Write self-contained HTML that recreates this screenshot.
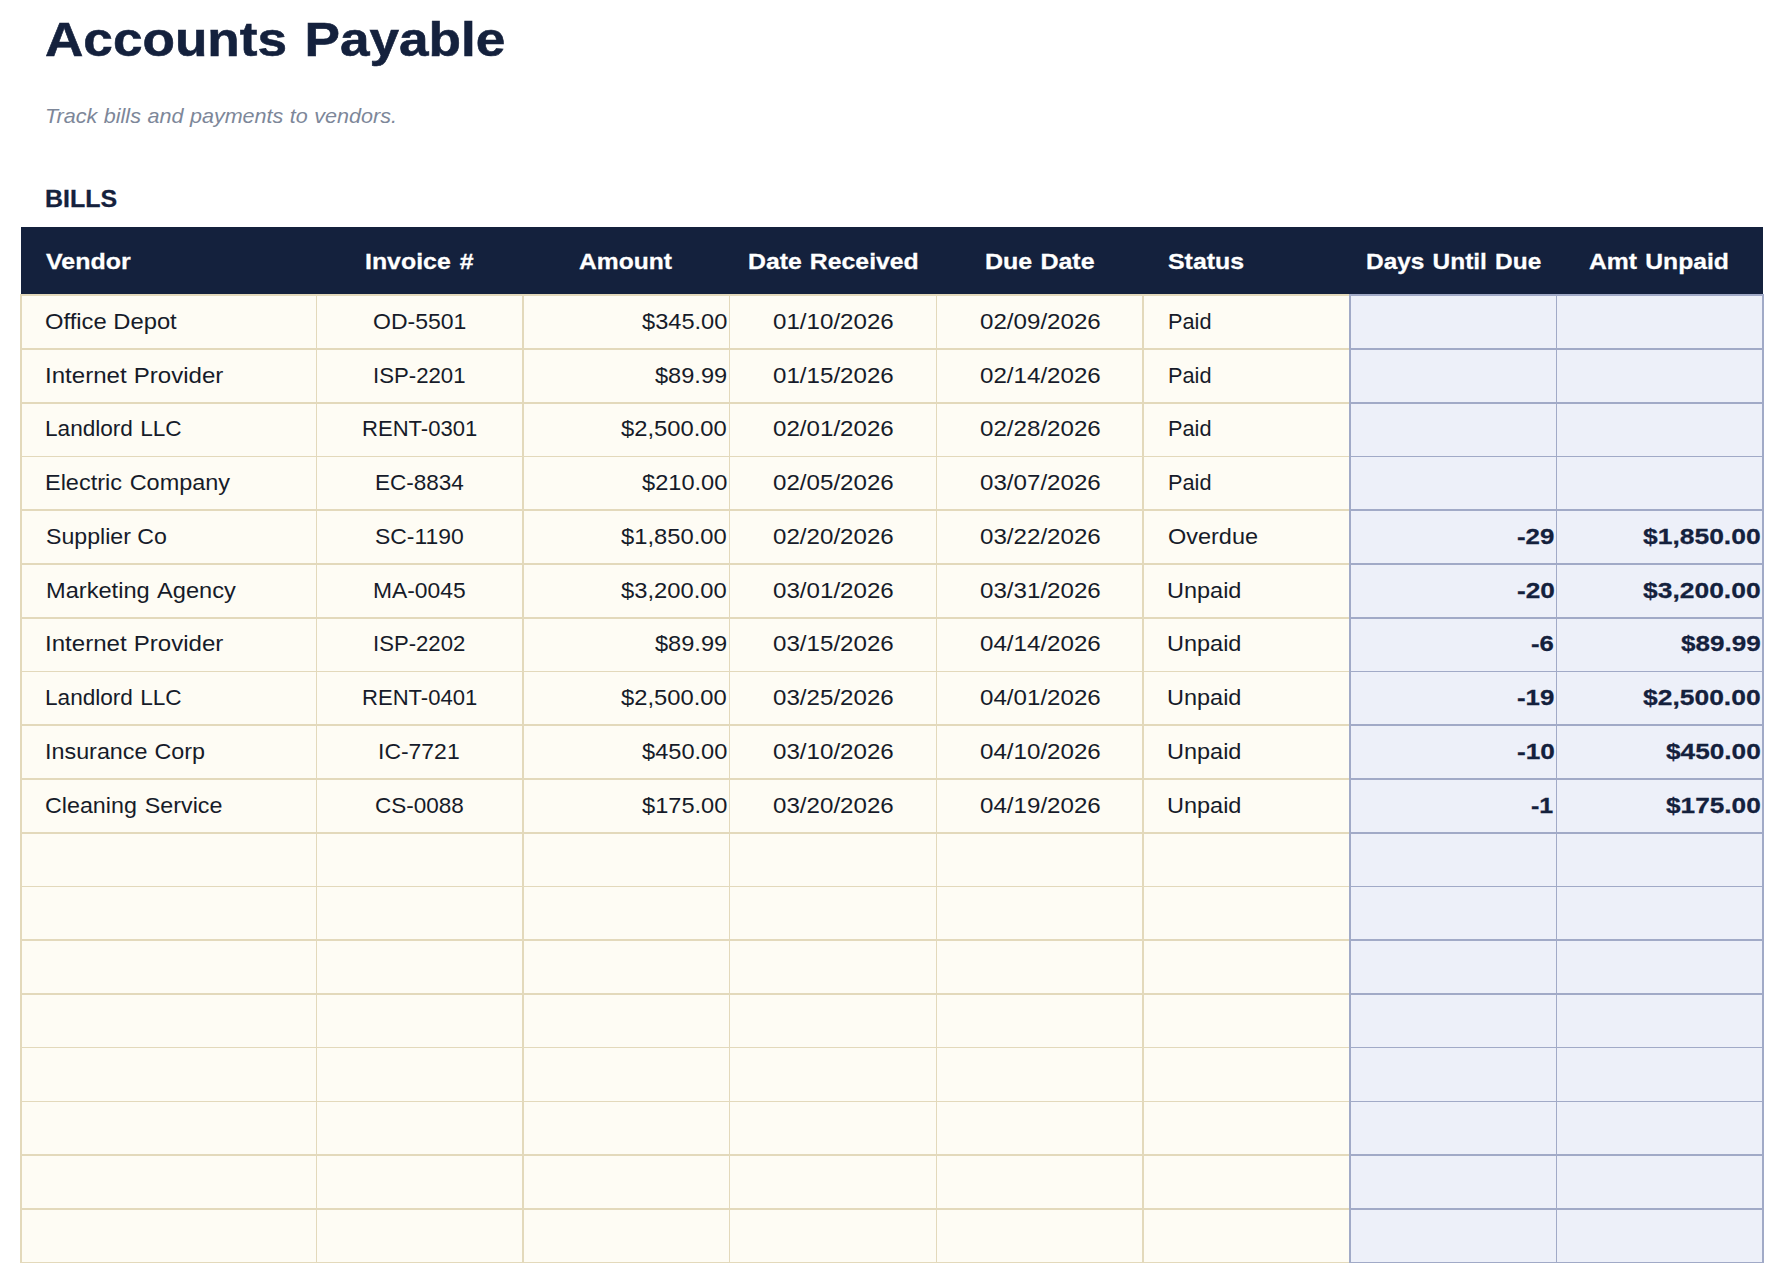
<!DOCTYPE html>
<html><head><meta charset="utf-8"><title>Accounts Payable</title>
<style>
html,body{margin:0;padding:0;background:#fff}
body{width:1784px;height:1283px;position:relative;overflow:hidden}
.r{position:absolute}
.t{position:absolute;white-space:pre;line-height:1;transform-origin:0 0}
</style></head><body>
<div class="r" style="left:20px;top:294px;width:1330px;height:969px;background:#fefcf4"></div>
<div class="r" style="left:1349px;top:294px;width:415px;height:969px;background:#edf0f9"></div>
<div class="r" style="left:20px;top:294px;width:1329px;height:2px;background:#e3d9bb"></div>
<div class="r" style="left:1349px;top:294px;width:415px;height:2px;background:#a1aac7"></div>
<div class="r" style="left:20px;top:348px;width:1329px;height:2px;background:#e3d9bb"></div>
<div class="r" style="left:1349px;top:348px;width:415px;height:2px;background:#a1aac7"></div>
<div class="r" style="left:20px;top:402px;width:1329px;height:2px;background:#e3d9bb"></div>
<div class="r" style="left:1349px;top:402px;width:415px;height:2px;background:#a1aac7"></div>
<div class="r" style="left:20px;top:456px;width:1329px;height:1px;background:#e3d9bb"></div>
<div class="r" style="left:1349px;top:456px;width:415px;height:1px;background:#a1aac7"></div>
<div class="r" style="left:20px;top:509px;width:1329px;height:2px;background:#e3d9bb"></div>
<div class="r" style="left:1349px;top:509px;width:415px;height:2px;background:#a1aac7"></div>
<div class="r" style="left:20px;top:563px;width:1329px;height:2px;background:#e3d9bb"></div>
<div class="r" style="left:1349px;top:563px;width:415px;height:2px;background:#a1aac7"></div>
<div class="r" style="left:20px;top:617px;width:1329px;height:2px;background:#e3d9bb"></div>
<div class="r" style="left:1349px;top:617px;width:415px;height:2px;background:#a1aac7"></div>
<div class="r" style="left:20px;top:671px;width:1329px;height:1px;background:#e3d9bb"></div>
<div class="r" style="left:1349px;top:671px;width:415px;height:1px;background:#a1aac7"></div>
<div class="r" style="left:20px;top:724px;width:1329px;height:2px;background:#e3d9bb"></div>
<div class="r" style="left:1349px;top:724px;width:415px;height:2px;background:#a1aac7"></div>
<div class="r" style="left:20px;top:778px;width:1329px;height:2px;background:#e3d9bb"></div>
<div class="r" style="left:1349px;top:778px;width:415px;height:2px;background:#a1aac7"></div>
<div class="r" style="left:20px;top:832px;width:1329px;height:2px;background:#e3d9bb"></div>
<div class="r" style="left:1349px;top:832px;width:415px;height:2px;background:#a1aac7"></div>
<div class="r" style="left:20px;top:886px;width:1329px;height:1px;background:#e3d9bb"></div>
<div class="r" style="left:1349px;top:886px;width:415px;height:1px;background:#a1aac7"></div>
<div class="r" style="left:20px;top:939px;width:1329px;height:2px;background:#e3d9bb"></div>
<div class="r" style="left:1349px;top:939px;width:415px;height:2px;background:#a1aac7"></div>
<div class="r" style="left:20px;top:993px;width:1329px;height:2px;background:#e3d9bb"></div>
<div class="r" style="left:1349px;top:993px;width:415px;height:2px;background:#a1aac7"></div>
<div class="r" style="left:20px;top:1047px;width:1329px;height:1px;background:#e3d9bb"></div>
<div class="r" style="left:1349px;top:1047px;width:415px;height:1px;background:#a1aac7"></div>
<div class="r" style="left:20px;top:1101px;width:1329px;height:1px;background:#e3d9bb"></div>
<div class="r" style="left:1349px;top:1101px;width:415px;height:1px;background:#a1aac7"></div>
<div class="r" style="left:20px;top:1154px;width:1329px;height:2px;background:#e3d9bb"></div>
<div class="r" style="left:1349px;top:1154px;width:415px;height:2px;background:#a1aac7"></div>
<div class="r" style="left:20px;top:1208px;width:1329px;height:2px;background:#e3d9bb"></div>
<div class="r" style="left:1349px;top:1208px;width:415px;height:2px;background:#a1aac7"></div>
<div class="r" style="left:20px;top:1262px;width:1329px;height:1px;background:#e3d9bb"></div>
<div class="r" style="left:1349px;top:1262px;width:415px;height:1px;background:#a1aac7"></div>
<div class="r" style="left:20px;top:294px;width:2px;height:969px;background:#e3d9bb"></div>
<div class="r" style="left:316px;top:294px;width:1px;height:969px;background:#e3d9bb"></div>
<div class="r" style="left:522px;top:294px;width:2px;height:969px;background:#e3d9bb"></div>
<div class="r" style="left:729px;top:294px;width:1px;height:969px;background:#e3d9bb"></div>
<div class="r" style="left:936px;top:294px;width:1px;height:969px;background:#e3d9bb"></div>
<div class="r" style="left:1142px;top:294px;width:2px;height:969px;background:#e3d9bb"></div>
<div class="r" style="left:1349px;top:294px;width:2px;height:969px;background:#a1aac7"></div>
<div class="r" style="left:1556px;top:294px;width:1px;height:969px;background:#a1aac7"></div>
<div class="r" style="left:1762px;top:294px;width:2px;height:969px;background:#a1aac7"></div>
<div class="r" style="left:21px;top:227px;width:1742px;height:67px;background:#14213d"></div>
<div class="t" style="left:44.82px;top:15.00px;color:#14213d;font-family:'Liberation Sans',sans-serif;font-size:48.36px;font-weight:bold;font-style:normal;word-spacing:2.485px;-webkit-text-stroke:0.58px;transform:scaleX(1.0984);">Accounts Payable</div>
<div class="t" style="left:44.52px;top:107.00px;color:#7d8799;font-family:'Liberation Sans',sans-serif;font-size:19.79px;font-weight:normal;font-style:italic;word-spacing:0.459px;transform:scaleX(1.0900);">Track bills and payments to vendors.</div>
<div class="t" style="left:45.42px;top:188.00px;color:#14213d;font-family:'Liberation Sans',sans-serif;font-size:23.71px;font-weight:bold;font-style:normal;-webkit-text-stroke:0.28px;transform:scaleX(1.0528);">BILLS</div>
<div class="t" style="left:45.55px;top:251.00px;color:#ffffff;font-family:'Liberation Sans',sans-serif;font-size:22.0px;font-weight:bold;font-style:normal;-webkit-text-stroke:0.26px;transform:scaleX(1.1347);">Vendor</div>
<div class="t" style="left:364.83px;top:251.00px;color:#ffffff;font-family:'Liberation Sans',sans-serif;font-size:22.0px;font-weight:bold;font-style:normal;word-spacing:1.840px;-webkit-text-stroke:0.26px;transform:scaleX(1.1312);">Invoice #</div>
<div class="t" style="left:579.33px;top:251.00px;color:#ffffff;font-family:'Liberation Sans',sans-serif;font-size:22.0px;font-weight:bold;font-style:normal;-webkit-text-stroke:0.26px;transform:scaleX(1.1182);">Amount</div>
<div class="t" style="left:747.90px;top:251.00px;color:#ffffff;font-family:'Liberation Sans',sans-serif;font-size:22.0px;font-weight:bold;font-style:normal;word-spacing:1.095px;-webkit-text-stroke:0.26px;transform:scaleX(1.1270);">Date Received</div>
<div class="t" style="left:985.10px;top:251.00px;color:#ffffff;font-family:'Liberation Sans',sans-serif;font-size:22.0px;font-weight:bold;font-style:normal;word-spacing:1.012px;-webkit-text-stroke:0.26px;transform:scaleX(1.1374);">Due Date</div>
<div class="t" style="left:1167.93px;top:251.00px;color:#ffffff;font-family:'Liberation Sans',sans-serif;font-size:22.0px;font-weight:bold;font-style:normal;-webkit-text-stroke:0.26px;transform:scaleX(1.1326);">Status</div>
<div class="t" style="left:1365.84px;top:251.00px;color:#ffffff;font-family:'Liberation Sans',sans-serif;font-size:22.0px;font-weight:bold;font-style:normal;word-spacing:1.311px;-webkit-text-stroke:0.26px;transform:scaleX(1.1099);">Days Until Due</div>
<div class="t" style="left:1589.42px;top:251.00px;color:#ffffff;font-family:'Liberation Sans',sans-serif;font-size:22.0px;font-weight:bold;font-style:normal;word-spacing:1.184px;-webkit-text-stroke:0.26px;transform:scaleX(1.1228);">Amt Unpaid</div>
<div class="t" style="left:45.48px;top:311.00px;color:#161b29;font-family:'Liberation Sans',sans-serif;font-size:22.0px;font-weight:normal;font-style:normal;word-spacing:0.023px;transform:scaleX(1.0805);">Office Depot</div>
<div class="t" style="left:372.62px;top:311.00px;color:#161b29;font-family:'Liberation Sans',sans-serif;font-size:22.0px;font-weight:normal;font-style:normal;transform:scaleX(1.0458);">OD-5501</div>
<div class="t" style="left:641.64px;top:311.00px;color:#161b29;font-family:'Liberation Sans',sans-serif;font-size:22.0px;font-weight:normal;font-style:normal;transform:scaleX(1.0732);">$345.00</div>
<div class="t" style="left:772.85px;top:311.00px;color:#161b29;font-family:'Liberation Sans',sans-serif;font-size:22.0px;font-weight:normal;font-style:normal;transform:scaleX(1.0968);">01/10/2026</div>
<div class="t" style="left:979.55px;top:311.00px;color:#161b29;font-family:'Liberation Sans',sans-serif;font-size:22.0px;font-weight:normal;font-style:normal;transform:scaleX(1.0968);">02/09/2026</div>
<div class="t" style="left:1167.87px;top:311.00px;color:#161b29;font-family:'Liberation Sans',sans-serif;font-size:22.0px;font-weight:normal;font-style:normal;transform:scaleX(0.9877);">Paid</div>
<div class="t" style="left:45.09px;top:365.00px;color:#161b29;font-family:'Liberation Sans',sans-serif;font-size:22.0px;font-weight:normal;font-style:normal;word-spacing:0.458px;transform:scaleX(1.0936);">Internet Provider</div>
<div class="t" style="left:372.90px;top:365.00px;color:#161b29;font-family:'Liberation Sans',sans-serif;font-size:22.0px;font-weight:normal;font-style:normal;transform:scaleX(1.0085);">ISP-2201</div>
<div class="t" style="left:655.10px;top:365.00px;color:#161b29;font-family:'Liberation Sans',sans-serif;font-size:22.0px;font-weight:normal;font-style:normal;transform:scaleX(1.0720);">$89.99</div>
<div class="t" style="left:772.85px;top:365.00px;color:#161b29;font-family:'Liberation Sans',sans-serif;font-size:22.0px;font-weight:normal;font-style:normal;transform:scaleX(1.0968);">01/15/2026</div>
<div class="t" style="left:979.55px;top:365.00px;color:#161b29;font-family:'Liberation Sans',sans-serif;font-size:22.0px;font-weight:normal;font-style:normal;transform:scaleX(1.0968);">02/14/2026</div>
<div class="t" style="left:1167.87px;top:365.00px;color:#161b29;font-family:'Liberation Sans',sans-serif;font-size:22.0px;font-weight:normal;font-style:normal;transform:scaleX(0.9877);">Paid</div>
<div class="t" style="left:45.49px;top:418.00px;color:#161b29;font-family:'Liberation Sans',sans-serif;font-size:22.0px;font-weight:normal;font-style:normal;word-spacing:0.974px;transform:scaleX(1.0270);">Landlord LLC</div>
<div class="t" style="left:361.71px;top:418.00px;color:#161b29;font-family:'Liberation Sans',sans-serif;font-size:22.0px;font-weight:normal;font-style:normal;transform:scaleX(1.0022);">RENT-0301</div>
<div class="t" style="left:621.49px;top:418.00px;color:#161b29;font-family:'Liberation Sans',sans-serif;font-size:22.0px;font-weight:normal;font-style:normal;transform:scaleX(1.0801);">$2,500.00</div>
<div class="t" style="left:772.85px;top:418.00px;color:#161b29;font-family:'Liberation Sans',sans-serif;font-size:22.0px;font-weight:normal;font-style:normal;transform:scaleX(1.0968);">02/01/2026</div>
<div class="t" style="left:979.55px;top:418.00px;color:#161b29;font-family:'Liberation Sans',sans-serif;font-size:22.0px;font-weight:normal;font-style:normal;transform:scaleX(1.0968);">02/28/2026</div>
<div class="t" style="left:1167.87px;top:418.00px;color:#161b29;font-family:'Liberation Sans',sans-serif;font-size:22.0px;font-weight:normal;font-style:normal;transform:scaleX(0.9877);">Paid</div>
<div class="t" style="left:45.39px;top:472.00px;color:#161b29;font-family:'Liberation Sans',sans-serif;font-size:22.0px;font-weight:normal;font-style:normal;word-spacing:1.161px;transform:scaleX(1.0661);">Electric Company</div>
<div class="t" style="left:375.03px;top:472.00px;color:#161b29;font-family:'Liberation Sans',sans-serif;font-size:22.0px;font-weight:normal;font-style:normal;transform:scaleX(1.0237);">EC-8834</div>
<div class="t" style="left:641.64px;top:472.00px;color:#161b29;font-family:'Liberation Sans',sans-serif;font-size:22.0px;font-weight:normal;font-style:normal;transform:scaleX(1.0732);">$210.00</div>
<div class="t" style="left:772.85px;top:472.00px;color:#161b29;font-family:'Liberation Sans',sans-serif;font-size:22.0px;font-weight:normal;font-style:normal;transform:scaleX(1.0968);">02/05/2026</div>
<div class="t" style="left:979.55px;top:472.00px;color:#161b29;font-family:'Liberation Sans',sans-serif;font-size:22.0px;font-weight:normal;font-style:normal;transform:scaleX(1.0968);">03/07/2026</div>
<div class="t" style="left:1167.87px;top:472.00px;color:#161b29;font-family:'Liberation Sans',sans-serif;font-size:22.0px;font-weight:normal;font-style:normal;transform:scaleX(0.9877);">Paid</div>
<div class="t" style="left:45.81px;top:526.00px;color:#161b29;font-family:'Liberation Sans',sans-serif;font-size:22.0px;font-weight:normal;font-style:normal;word-spacing:-0.134px;transform:scaleX(1.0521);">Supplier Co</div>
<div class="t" style="left:375.25px;top:526.00px;color:#161b29;font-family:'Liberation Sans',sans-serif;font-size:22.0px;font-weight:normal;font-style:normal;transform:scaleX(1.0420);">SC-1190</div>
<div class="t" style="left:621.49px;top:526.00px;color:#161b29;font-family:'Liberation Sans',sans-serif;font-size:22.0px;font-weight:normal;font-style:normal;transform:scaleX(1.0801);">$1,850.00</div>
<div class="t" style="left:772.85px;top:526.00px;color:#161b29;font-family:'Liberation Sans',sans-serif;font-size:22.0px;font-weight:normal;font-style:normal;transform:scaleX(1.0968);">02/20/2026</div>
<div class="t" style="left:979.55px;top:526.00px;color:#161b29;font-family:'Liberation Sans',sans-serif;font-size:22.0px;font-weight:normal;font-style:normal;transform:scaleX(1.0968);">03/22/2026</div>
<div class="t" style="left:1167.78px;top:526.00px;color:#161b29;font-family:'Liberation Sans',sans-serif;font-size:22.0px;font-weight:normal;font-style:normal;transform:scaleX(1.0667);">Overdue</div>
<div class="t" style="left:1516.67px;top:526.00px;color:#14213d;font-family:'Liberation Sans',sans-serif;font-size:22.0px;font-weight:bold;font-style:normal;-webkit-text-stroke:0.26px;transform:scaleX(1.1736);">-29</div>
<div class="t" style="left:1643.42px;top:526.00px;color:#14213d;font-family:'Liberation Sans',sans-serif;font-size:22.0px;font-weight:bold;font-style:normal;-webkit-text-stroke:0.26px;transform:scaleX(1.2016);">$1,850.00</div>
<div class="t" style="left:45.50px;top:580.00px;color:#161b29;font-family:'Liberation Sans',sans-serif;font-size:22.0px;font-weight:normal;font-style:normal;word-spacing:1.901px;transform:scaleX(1.0735);">Marketing Agency</div>
<div class="t" style="left:372.95px;top:580.00px;color:#161b29;font-family:'Liberation Sans',sans-serif;font-size:22.0px;font-weight:normal;font-style:normal;transform:scaleX(1.0376);">MA-0045</div>
<div class="t" style="left:621.49px;top:580.00px;color:#161b29;font-family:'Liberation Sans',sans-serif;font-size:22.0px;font-weight:normal;font-style:normal;transform:scaleX(1.0801);">$3,200.00</div>
<div class="t" style="left:772.85px;top:580.00px;color:#161b29;font-family:'Liberation Sans',sans-serif;font-size:22.0px;font-weight:normal;font-style:normal;transform:scaleX(1.0968);">03/01/2026</div>
<div class="t" style="left:979.55px;top:580.00px;color:#161b29;font-family:'Liberation Sans',sans-serif;font-size:22.0px;font-weight:normal;font-style:normal;transform:scaleX(1.0968);">03/31/2026</div>
<div class="t" style="left:1167.48px;top:580.00px;color:#161b29;font-family:'Liberation Sans',sans-serif;font-size:22.0px;font-weight:normal;font-style:normal;transform:scaleX(1.0677);">Unpaid</div>
<div class="t" style="left:1516.65px;top:580.00px;color:#14213d;font-family:'Liberation Sans',sans-serif;font-size:22.0px;font-weight:bold;font-style:normal;-webkit-text-stroke:0.26px;transform:scaleX(1.1901);">-20</div>
<div class="t" style="left:1643.42px;top:580.00px;color:#14213d;font-family:'Liberation Sans',sans-serif;font-size:22.0px;font-weight:bold;font-style:normal;-webkit-text-stroke:0.26px;transform:scaleX(1.2016);">$3,200.00</div>
<div class="t" style="left:45.09px;top:633.00px;color:#161b29;font-family:'Liberation Sans',sans-serif;font-size:22.0px;font-weight:normal;font-style:normal;word-spacing:0.458px;transform:scaleX(1.0936);">Internet Provider</div>
<div class="t" style="left:372.90px;top:633.00px;color:#161b29;font-family:'Liberation Sans',sans-serif;font-size:22.0px;font-weight:normal;font-style:normal;transform:scaleX(1.0056);">ISP-2202</div>
<div class="t" style="left:655.10px;top:633.00px;color:#161b29;font-family:'Liberation Sans',sans-serif;font-size:22.0px;font-weight:normal;font-style:normal;transform:scaleX(1.0720);">$89.99</div>
<div class="t" style="left:772.85px;top:633.00px;color:#161b29;font-family:'Liberation Sans',sans-serif;font-size:22.0px;font-weight:normal;font-style:normal;transform:scaleX(1.0968);">03/15/2026</div>
<div class="t" style="left:979.55px;top:633.00px;color:#161b29;font-family:'Liberation Sans',sans-serif;font-size:22.0px;font-weight:normal;font-style:normal;transform:scaleX(1.0968);">04/14/2026</div>
<div class="t" style="left:1167.48px;top:633.00px;color:#161b29;font-family:'Liberation Sans',sans-serif;font-size:22.0px;font-weight:normal;font-style:normal;transform:scaleX(1.0677);">Unpaid</div>
<div class="t" style="left:1531.39px;top:633.00px;color:#14213d;font-family:'Liberation Sans',sans-serif;font-size:22.0px;font-weight:bold;font-style:normal;-webkit-text-stroke:0.26px;transform:scaleX(1.1667);">-6</div>
<div class="t" style="left:1680.86px;top:633.00px;color:#14213d;font-family:'Liberation Sans',sans-serif;font-size:22.0px;font-weight:bold;font-style:normal;-webkit-text-stroke:0.26px;transform:scaleX(1.1849);">$89.99</div>
<div class="t" style="left:45.49px;top:687.00px;color:#161b29;font-family:'Liberation Sans',sans-serif;font-size:22.0px;font-weight:normal;font-style:normal;word-spacing:0.974px;transform:scaleX(1.0270);">Landlord LLC</div>
<div class="t" style="left:361.71px;top:687.00px;color:#161b29;font-family:'Liberation Sans',sans-serif;font-size:22.0px;font-weight:normal;font-style:normal;transform:scaleX(1.0022);">RENT-0401</div>
<div class="t" style="left:621.49px;top:687.00px;color:#161b29;font-family:'Liberation Sans',sans-serif;font-size:22.0px;font-weight:normal;font-style:normal;transform:scaleX(1.0801);">$2,500.00</div>
<div class="t" style="left:772.85px;top:687.00px;color:#161b29;font-family:'Liberation Sans',sans-serif;font-size:22.0px;font-weight:normal;font-style:normal;transform:scaleX(1.0968);">03/25/2026</div>
<div class="t" style="left:979.55px;top:687.00px;color:#161b29;font-family:'Liberation Sans',sans-serif;font-size:22.0px;font-weight:normal;font-style:normal;transform:scaleX(1.0968);">04/01/2026</div>
<div class="t" style="left:1167.48px;top:687.00px;color:#161b29;font-family:'Liberation Sans',sans-serif;font-size:22.0px;font-weight:normal;font-style:normal;transform:scaleX(1.0677);">Unpaid</div>
<div class="t" style="left:1516.67px;top:687.00px;color:#14213d;font-family:'Liberation Sans',sans-serif;font-size:22.0px;font-weight:bold;font-style:normal;-webkit-text-stroke:0.26px;transform:scaleX(1.1736);">-19</div>
<div class="t" style="left:1643.42px;top:687.00px;color:#14213d;font-family:'Liberation Sans',sans-serif;font-size:22.0px;font-weight:bold;font-style:normal;-webkit-text-stroke:0.26px;transform:scaleX(1.2016);">$2,500.00</div>
<div class="t" style="left:45.17px;top:741.00px;color:#161b29;font-family:'Liberation Sans',sans-serif;font-size:22.0px;font-weight:normal;font-style:normal;word-spacing:0.483px;transform:scaleX(1.0609);">Insurance Corp</div>
<div class="t" style="left:378.29px;top:741.00px;color:#161b29;font-family:'Liberation Sans',sans-serif;font-size:22.0px;font-weight:normal;font-style:normal;transform:scaleX(1.0432);">IC-7721</div>
<div class="t" style="left:641.64px;top:741.00px;color:#161b29;font-family:'Liberation Sans',sans-serif;font-size:22.0px;font-weight:normal;font-style:normal;transform:scaleX(1.0732);">$450.00</div>
<div class="t" style="left:772.85px;top:741.00px;color:#161b29;font-family:'Liberation Sans',sans-serif;font-size:22.0px;font-weight:normal;font-style:normal;transform:scaleX(1.0968);">03/10/2026</div>
<div class="t" style="left:979.55px;top:741.00px;color:#161b29;font-family:'Liberation Sans',sans-serif;font-size:22.0px;font-weight:normal;font-style:normal;transform:scaleX(1.0968);">04/10/2026</div>
<div class="t" style="left:1167.48px;top:741.00px;color:#161b29;font-family:'Liberation Sans',sans-serif;font-size:22.0px;font-weight:normal;font-style:normal;transform:scaleX(1.0677);">Unpaid</div>
<div class="t" style="left:1516.65px;top:741.00px;color:#14213d;font-family:'Liberation Sans',sans-serif;font-size:22.0px;font-weight:bold;font-style:normal;-webkit-text-stroke:0.26px;transform:scaleX(1.1901);">-10</div>
<div class="t" style="left:1666.16px;top:741.00px;color:#14213d;font-family:'Liberation Sans',sans-serif;font-size:22.0px;font-weight:bold;font-style:normal;-webkit-text-stroke:0.26px;transform:scaleX(1.1911);">$450.00</div>
<div class="t" style="left:45.46px;top:795.00px;color:#161b29;font-family:'Liberation Sans',sans-serif;font-size:22.0px;font-weight:normal;font-style:normal;word-spacing:1.441px;transform:scaleX(1.0577);">Cleaning Service</div>
<div class="t" style="left:375.01px;top:795.00px;color:#161b29;font-family:'Liberation Sans',sans-serif;font-size:22.0px;font-weight:normal;font-style:normal;transform:scaleX(1.0235);">CS-0088</div>
<div class="t" style="left:641.64px;top:795.00px;color:#161b29;font-family:'Liberation Sans',sans-serif;font-size:22.0px;font-weight:normal;font-style:normal;transform:scaleX(1.0732);">$175.00</div>
<div class="t" style="left:772.85px;top:795.00px;color:#161b29;font-family:'Liberation Sans',sans-serif;font-size:22.0px;font-weight:normal;font-style:normal;transform:scaleX(1.0968);">03/20/2026</div>
<div class="t" style="left:979.55px;top:795.00px;color:#161b29;font-family:'Liberation Sans',sans-serif;font-size:22.0px;font-weight:normal;font-style:normal;transform:scaleX(1.0968);">04/19/2026</div>
<div class="t" style="left:1167.48px;top:795.00px;color:#161b29;font-family:'Liberation Sans',sans-serif;font-size:22.0px;font-weight:normal;font-style:normal;transform:scaleX(1.0677);">Unpaid</div>
<div class="t" style="left:1531.41px;top:795.00px;color:#14213d;font-family:'Liberation Sans',sans-serif;font-size:22.0px;font-weight:bold;font-style:normal;-webkit-text-stroke:0.26px;transform:scaleX(1.1370);">-1</div>
<div class="t" style="left:1666.16px;top:795.00px;color:#14213d;font-family:'Liberation Sans',sans-serif;font-size:22.0px;font-weight:bold;font-style:normal;-webkit-text-stroke:0.26px;transform:scaleX(1.1911);">$175.00</div>
</body></html>
